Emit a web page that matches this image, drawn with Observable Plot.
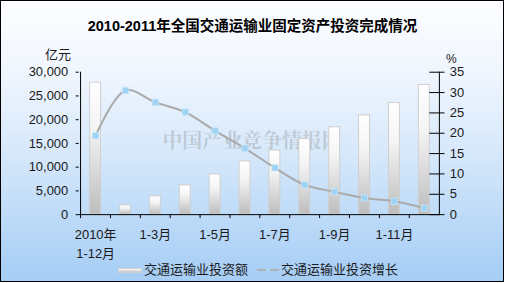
<!DOCTYPE html>
<html><head><meta charset="utf-8">
<script src="https://cdn.jsdelivr.net/npm/d3@7"></script>
<script src="https://cdn.jsdelivr.net/npm/@observablehq/plot@0.6"></script>
<style>
body{margin:0;background:#fff;}
#wrap{position:relative;width:504px;height:282px;box-sizing:border-box;border:1px solid #000;
 background:linear-gradient(to bottom,#fcfdff 0%,#f0f6fe 25%,#d6e8fb 55%,#bcdaf8 78%,#a6cdf5 100%);
 overflow:hidden;font-family:"Liberation Sans",Arial,"Noto Sans CJK SC",sans-serif;color:#1a1a1a;}
#title{position:absolute;left:-1px;top:16px;width:505px;text-align:center;font-weight:bold;font-size:14.5px;line-height:18px;color:#000;font-family:"Liberation Sans",Arial,"Noto Sans CJK SC",sans-serif;}
#chart{position:absolute;left:-1px;top:-1px;}
.unit{position:absolute;font-size:13px;line-height:13px;}
#legend{position:absolute;left:-1px;top:261px;width:505px;height:16px;font-size:13px;line-height:16px;}
#legend span{position:absolute;top:0;}
</style></head>
<body>
<div id="wrap">
  <div id="title">2010-2011年全国交通运输业固定资产投资完成情况</div>
  <div id="chart"></div>
  <div class="unit" style="left:44px;top:47px;">亿元</div>
  <div class="unit" style="left:445px;top:52px;font-size:12px;line-height:12px;">%</div>
  <div id="legend">
    <span style="left:118px;top:6px;width:24px;height:5px;background:linear-gradient(to bottom,#ffffff,#c4c4c4);border:1px solid #d0d0d0;box-sizing:border-box;"></span>
    <span style="left:144px;">交通运输业投资额</span>
    <span style="left:257px;top:7px;width:22px;height:2px;background:#b0b0b0;"></span>
    <span style="left:266px;top:6px;width:4px;height:4px;background:#a8d8f4;"></span>
    <span style="left:281px;">交通运输业投资增长</span>
  </div>
</div>
<script>
const categories = ["2010年1-12月","2011年1-2月","2011年1-3月","2011年1-4月","2011年1-5月","2011年1-6月","2011年1-7月","2011年1-8月","2011年1-9月","2011年1-10月","2011年1-11月","2011年1-12月"];
const tickLabels = ["2010年\n1-12月","","1-3月","","1-5月","","1-7月","","1-9月","","1-11月",""];
const investment = [27800, 1950, 3850, 6150, 8450, 11200, 13500, 15900, 18400, 20900, 23500, 27300];
const growth = [19.4, 30.5, 27.6, 25.2, 20.6, 16.3, 11.5, 7.3, 5.6, 4.1, 3.3, 1.6];
const leftTicks = [0, 5000, 10000, 15000, 20000, 25000, 30000];
const rightTicks = [0, 5, 10, 15, 20, 25, 30, 35];
const leftMax = 30000, rightMax = 35;

const data = categories.map((c, i) => ({cat: c, label: tickLabels[i], inv: investment[i], g: growth[i]}));
const toLeft = v => v * leftMax / rightMax;

const W = 505, H = 283;
const mL = 79, mR = 63, mT = 72, mB = 68;
const step = (W - mL - mR) / categories.length;

const defs = () => {
  const ns = "http://www.w3.org/2000/svg";
  const d = document.createElementNS(ns, "defs");
  d.innerHTML = `<linearGradient id="barGrad" x1="0" y1="0" x2="0" y2="1">
    <stop offset="0" stop-color="#ffffff"/><stop offset="0.35" stop-color="#f4f4f4"/>
    <stop offset="1" stop-color="#bdbdbd"/></linearGradient>`;
  return d;
};

const plot = Plot.plot({
  width: W, height: H,
  marginLeft: mL, marginRight: mR, marginTop: mT, marginBottom: mB,
  style: {background: "transparent", fontFamily: '"Liberation Sans", Arial, "Noto Sans CJK SC", sans-serif', fontSize: "13px", color: "#1a1a1a"},
  x: {type: "band", domain: categories, paddingInner: 0.64, paddingOuter: 0.32, label: null},
  y: {domain: [0, leftMax], label: null},
  marks: [
    defs,
    Plot.text(["中国产业竞争情报网"], {frameAnchor: "middle", dx: -8, dy: -2, fontSize: 20, fontWeight: "bold", fill: "#8a8a8a", fillOpacity: 0.35, fontFamily: '"Noto Serif CJK SC","Noto Sans CJK SC",serif'}),
    Plot.barY(data, {x: "cat", y: "inv", fill: "url(#barGrad)", stroke: "#cfcfcf", strokeWidth: 1}),
    Plot.line(data, {x: "cat", y: d => toLeft(d.g), stroke: "#aaaaaa", strokeWidth: 2, curve: "catmull-rom"}),
    Plot.dot(data, {x: "cat", y: d => toLeft(d.g), symbol: "square", r: 3.6, fill: "#9fd3f3", stroke: "#c9e8fa", strokeWidth: 0.8}),
    Plot.dot(data, {x: "cat", y: d => toLeft(d.g), symbol: "plus", r: 1.6, fill: "#ffffff"}),
    Plot.ruleY([0], {stroke: "#000"}),
    Plot.axisY({anchor: "left", ticks: leftTicks, tickSize: 3, tickPadding: 8, tickFormat: d3.format(","), label: null, stroke: "#000"}),
    Plot.ruleX([categories[0]], {dx: -step / 2, stroke: "#000"}),
    Plot.axisY({anchor: "right", ticks: rightTicks.map(toLeft), tickSize: 0, tickPadding: 9, tickFormat: v => Math.round(v * rightMax / leftMax), label: null}),
    Plot.tickY(rightTicks.map(toLeft), {y: d => d, x: () => categories[categories.length - 1], insetLeft: step - 4, stroke: "#000"}),
    Plot.ruleX([categories[categories.length - 1]], {dx: step / 2, stroke: "#000"}),
    Plot.axisX({tickSize: 4, tickFormat: () => "", dx: -step / 2, label: null, stroke: "#000"}),
    Plot.text(data.filter(d => d.label), {x: "cat", text: "label", frameAnchor: "bottom", lineAnchor: "top", dy: 12, lineHeight: 1.4, fontSize: 13, fill: "#1a1a1a"})
  ]
});
document.getElementById("chart").appendChild(plot);
</script>
</body></html>
